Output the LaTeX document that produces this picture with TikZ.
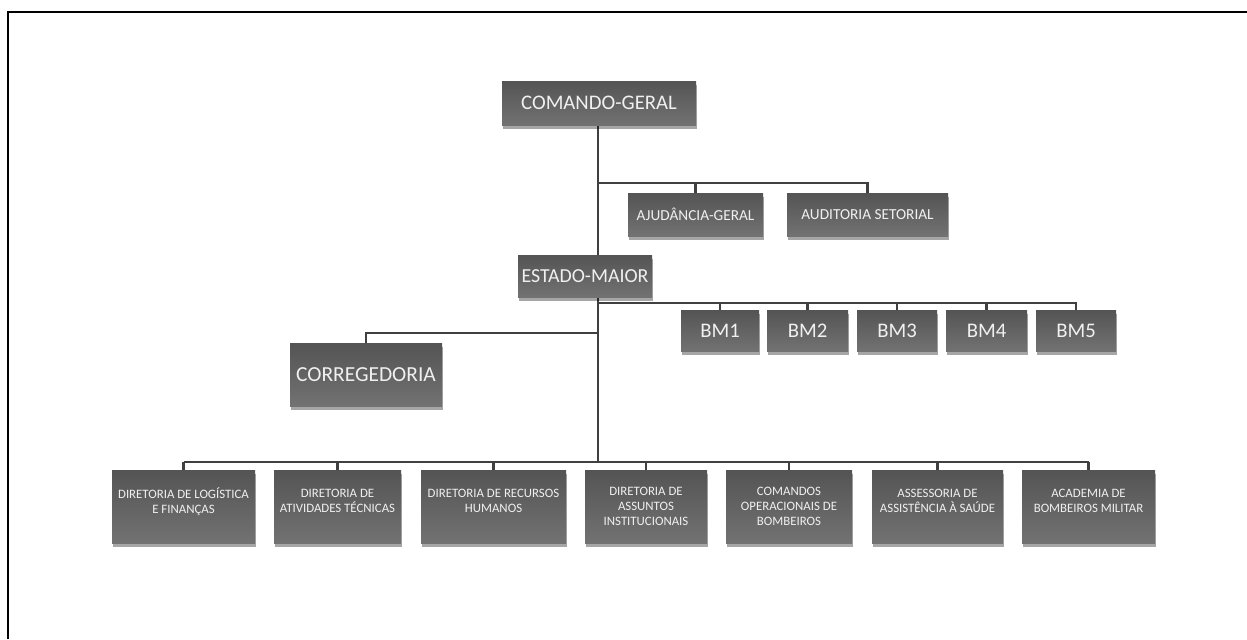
\documentclass[tikz,border=0pt]{standalone}
\usepackage{fontspec}
\setmainfont{Carlito}
\usetikzlibrary{shadows,backgrounds}
\definecolor{caixaTopo}{RGB}{84,84,84}
\definecolor{caixaBase}{RGB}{114,114,114}
\definecolor{linha}{RGB}{64,64,64}
\tikzset{
  caixa/.style={rectangle, top color=caixaTopo, bottom color=caixaBase, text=white!94!black,
    align=center, inner sep=0pt,
    drop shadow={shadow xshift=0.5pt, shadow yshift=-2.5pt, opacity=0.35, fill=black}},
  tam/.style 2 args={minimum width=#1*0.02cm, minimum height=#2*0.02cm},
  grande/.style={font=\fontsize{11.8}{14}\selectfont},
  media/.style={font=\fontsize{8.7}{10}\selectfont},
  pequena/.style={font=\fontsize{7.3}{8.6}\selectfont},
  ligacao/.style={draw=linha, line width=1.4pt},
}
\begin{document}
\begin{tikzpicture}[x=0.02cm, y=-0.02cm] %Escala em pixels
  \useasboundingbox (0,0) rectangle (1247,639);
  \draw[line width=1.7pt] (8,639) -- (8,12) -- (1247,12); %Moldura
    %Caixas
  \node[caixa, grande, tam={194}{44}] (cg) at (599,103) {COMANDO-GERAL};
  \node[caixa, media, tam={135}{43}] (aj) at (695.5,214.5) {AJUDÂNCIA-GERAL};
  \node[caixa, media, tam={161}{43}] (au) at (867.5,214.5) {AUDITORIA SETORIAL};
  \node[caixa, grande, font=\fontsize{11.3}{13}\selectfont, tam={134}{42}] (em) at (585,276) {ESTADO-MAIOR};
  \node[caixa, grande, tam={78}{41}] (bm1) at (720,330.5) {BM1};
  \node[caixa, grande, tam={81}{41}] (bm2) at (807.5,330.5) {BM2};
  \node[caixa, grande, tam={80}{41}] (bm3) at (897,330.5) {BM3};
  \node[caixa, grande, tam={81}{41}] (bm4) at (986.5,330.5) {BM4};
  \node[caixa, grande, tam={80}{41}] (bm5) at (1076,330.5) {BM5};
  \node[caixa, grande, font=\fontsize{12.2}{14}\selectfont, tam={152}{63}] (cor) at (366,374.5) {CORREGEDORIA};
  \node[caixa, pequena, tam={143}{73}] (d1) at (183.5,506.5) {DIRETORIA DE LOGÍSTICA\\E FINANÇAS\\[-2pt]};
  \node[caixa, pequena, tam={127}{73}] (d2) at (337.5,506.5) {DIRETORIA DE\\ATIVIDADES TÉCNICAS\\[-2pt]};
  \node[caixa, pequena, tam={145}{73}] (d3) at (493.5,506.5) {DIRETORIA DE RECURSOS\\HUMANOS\\[-2pt]};
  \node[caixa, pequena, tam={122}{73}] (d4) at (646,506.5) {DIRETORIA DE\\ASSUNTOS\\INSTITUCIONAIS};
  \node[caixa, pequena, tam={126}{73}] (d5) at (789,506.5) {COMANDOS\\OPERACIONAIS DE\\BOMBEIROS};
  \node[caixa, pequena, tam={131}{73}] (d6) at (937.5,506.5) {ASSESSORIA DE\\ASSISTÊNCIA À SAÚDE\\[-2pt]};
  \node[caixa, pequena, tam={133}{73}] (d7) at (1088.5,506.5) {ACADEMIA DE\\BOMBEIROS MILITAR\\[-2pt]};
    %Ligações
  \coordinate (j1) at (598,183);
  \coordinate (j2) at (598,303);
  \coordinate (j3) at (598,333);
  \coordinate (j4) at (598,462);
  \begin{scope}[on background layer]
    \draw[ligacao] (cg.south -| j4) -- (j4);
    \draw[ligacao] (j1) -| (au.north);
    \draw[ligacao] (aj.north |- j1) -- (aj.north);
    \draw[ligacao] (j2) -| (bm5.north);
    \foreach \b in {bm1,bm2,bm3,bm4}
      \draw[ligacao] (\b.north |- j2) -- (\b.north);
    \draw[ligacao] (j3) -| (cor.north);
    \draw[ligacao] (d1.north |- j4) -- (d7.north |- j4);
    \foreach \d in {d1,d2,d3,d4,d5,d6,d7}
      \draw[ligacao] (\d.north |- j4) -- (\d.north);
  \end{scope}
\end{tikzpicture}
\end{document}
